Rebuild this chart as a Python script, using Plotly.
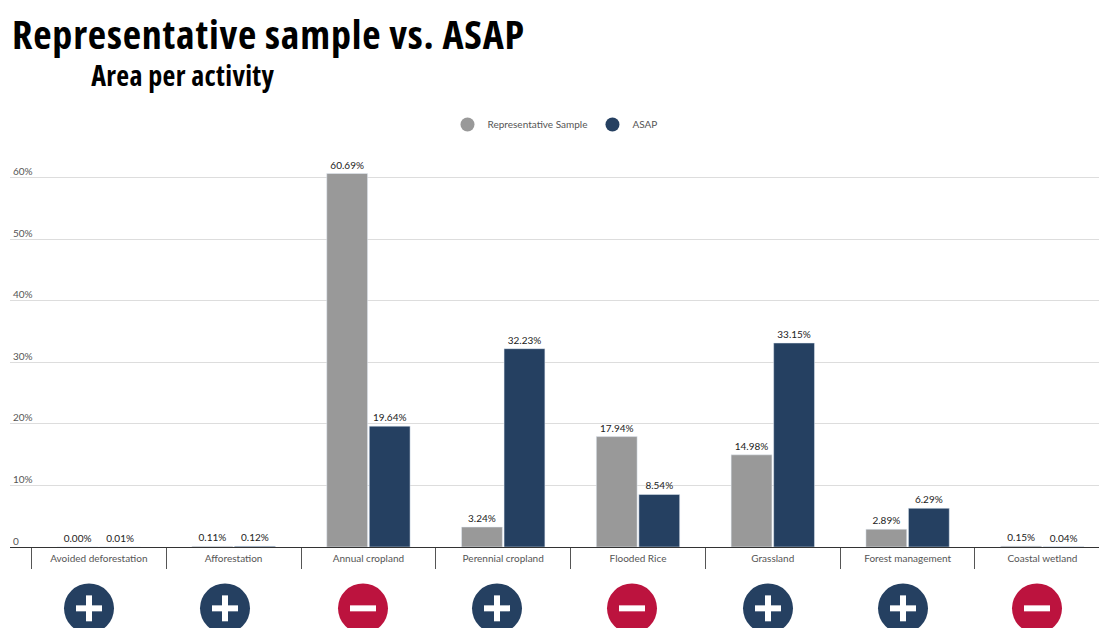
import plotly.graph_objects as go

# data
categories = ["Avoided deforestation", "Afforestation", "Annual cropland", "Perennial cropland",
              "Flooded Rice", "Grassland", "Forest management", "Coastal wetland"]
sample_values = [0.00, 0.11, 60.69, 3.24, 17.94, 14.98, 2.89, 0.15]
asap_values = [0.01, 0.12, 19.64, 32.23, 8.54, 33.15, 6.29, 0.04]
signs = ["+", "+", "-", "+", "-", "+", "+", "-"]
y_ticks = [0, 10, 20, 30, 40, 50, 60]
y_labels = ["0", "10%", "20%", "30%", "40%", "50%", "60%"]
icon_x = [89, 225, 363, 497, 632, 768, 903, 1037]

GREY = "#999999"
NAVY = "#254061"
RED = "#BC133E"
W, H = 1099, 628
LEFT, TOP, BOTTOM = 10, 146.5, 80.5
PLOT_W = W - LEFT
PLOT_H = H - TOP - BOTTOM
LABEL_FONT = "Lato"
TITLE_FONT = "Open Sans"


# pixel position in the page -> paper coordinates
def px(x):
    return (x - LEFT) / PLOT_W


def py(y):
    return (H - BOTTOM - y) / PLOT_H


fig = go.Figure()

# bars
for name, vals, color in [("Representative Sample", sample_values, GREY), ("ASAP", asap_values, NAVY)]:
    fig.add_trace(go.Bar(
        x=categories, y=vals, name=name, marker=dict(color=color), showlegend=False,
        texttemplate="%{y:.2f}%", textposition="outside", cliponaxis=False,
        textfont=dict(size=10, color="#222222", family=LABEL_FONT),
    ))
    # dummy trace so the legend gets round markers
    fig.add_trace(go.Scatter(
        x=[None], y=[None], mode="markers", name=name,
        marker=dict(color=color, size=14, symbol="circle"),
    ))

# plus / minus icons below the axis
shapes = []
for cx, sign in zip(icon_x, signs):
    color = NAVY if sign == "+" else RED
    shapes.append(dict(type="circle", xref="paper", yref="paper", layer="above",
                       x0=px(cx - 25), x1=px(cx + 25), y0=py(634), y1=py(584),
                       fillcolor=color, line_width=0))
    shapes.append(dict(type="rect", xref="paper", yref="paper", layer="above",
                       x0=px(cx - 13), x1=px(cx + 13), y0=py(612), y1=py(606),
                       fillcolor="white", line_width=0))
    if sign == "+":
        shapes.append(dict(type="rect", xref="paper", yref="paper", layer="above",
                           x0=px(cx - 3), x1=px(cx + 3), y0=py(622), y1=py(596),
                           fillcolor="white", line_width=0))

fig.update_layout(
    width=W, height=H,
    autosize=False,
    margin=dict(l=LEFT, r=0, t=TOP, b=BOTTOM),
    paper_bgcolor="white", plot_bgcolor="white",
    barmode="group", bargap=0.369, bargroupgap=0.04,
    shapes=shapes,
    title=dict(text="<b>Representative sample vs. ASAP</b>", x=12 / W, xanchor="left",
               y=1 - 35 / H, yanchor="middle",
               font=dict(size=40, color="black", family=TITLE_FONT)),
    annotations=[dict(text="<b>Area per activity</b>", xref="paper", yref="paper", showarrow=False,
                      x=px(182.5), xanchor="center", y=py(74), yanchor="middle",
                      font=dict(size=28, color="black", family=TITLE_FONT))],
    legend=dict(orientation="h", x=px(555), xanchor="center", y=py(124), yanchor="middle",
                font=dict(size=10, color="#555555", family=LABEL_FONT)),
    xaxis=dict(type="category", range=[-0.659, 7.42], tickson="boundaries", ticks="outside",
               ticklen=21, tickcolor="#555555", tickwidth=1, showgrid=False,
               showline=True, linecolor="#333333", linewidth=1, zeroline=False,
               ticklabelstandoff=2, tickfont=dict(size=10, color="#555555", family=LABEL_FONT)),
    yaxis=dict(range=[0, 65], tickvals=y_ticks, ticktext=y_labels, ticklabelposition="inside",
               ticklabeloverflow="allow", ticklabelshift=-6, showgrid=True, gridcolor="#dddddd",
               gridwidth=1, zeroline=False, ticks="",
               tickfont=dict(size=10, color="#555555", family=LABEL_FONT)),
)

# no page margin, and condensed, slightly spaced title text (Open Sans has a condensed face)
post = """
document.body.style.margin = '0';
var st = document.createElement('style');
st.textContent = '.gtitle {font-stretch: 75% !important; letter-spacing: 0.8px;}'
    + '.annotation-text {font-stretch: 75% !important; letter-spacing: 0.35px;}';
document.head.appendChild(st);
"""
fig.write_html("out.html", post_script=post, config=dict(displayModeBar=False))
